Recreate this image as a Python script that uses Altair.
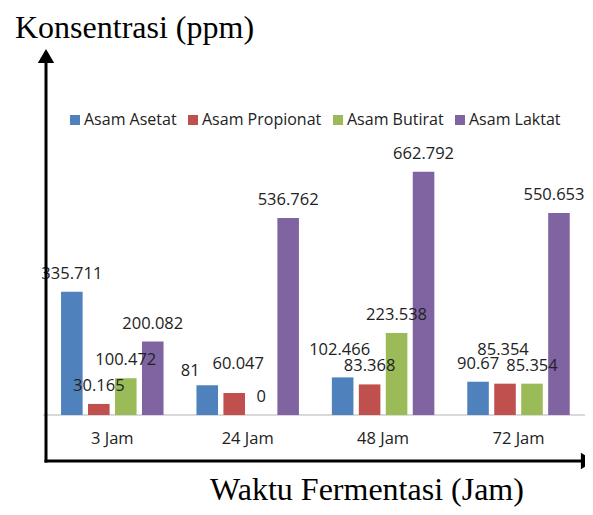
import altair as alt
import pandas as pd

# ---- data ----
categories = ["3 Jam", "24 Jam", "48 Jam", "72 Jam"]
series = ["Asam Asetat", "Asam Propionat", "Asam Butirat", "Asam Laktat"]
asetat = [335.711, 81, 102.466, 90.67]
propionat = [30.165, 60.047, 83.368, 85.354]
butirat = [100.472, 0, 223.538, 85.354]
laktat = [200.082, 536.762, 662.792, 550.653]
colors = ["#4F81BD", "#C0504D", "#9BBB59", "#8064A2"]

rows = []
for s, vals in zip(series, [asetat, propionat, butirat, laktat]):
    for c, v in zip(categories, vals):
        rows.append({"waktu": c, "asam": s, "ppm": v, "label": f"{v:g}"})
df = pd.DataFrame(rows)

# label placement tweaks (pixels) for labels moved by hand in the original
nudges = [
    ("24 Jam", "Asam Asetat", -17, 4),
    ("24 Jam", "Asam Propionat", 4, -11),
    ("48 Jam", "Asam Asetat", -3, -9),
    ("72 Jam", "Asam Propionat", -2, -16),
    ("72 Jam", "Asam Laktat", -5, 0),
]

W, H = 577, 499
SANS = "Open Sans"
SERIF = "Liberation Serif"
TXT = "#222222"

x_scale = alt.Scale(domain=categories, range=[36.6, 578.2], paddingInner=0, paddingOuter=0)
xo_scale = alt.Scale(domain=series, paddingInner=0.2, paddingOuter=0.61)
y_scale = alt.Scale(domain=[0, 700], range=[407, 150.1], nice=False)

X = alt.X("waktu:N", scale=x_scale, sort=categories, axis=None)
XO = alt.XOffset("asam:N", scale=xo_scale, sort=series)
Y = alt.Y("ppm:Q", scale=y_scale, axis=None)

base = alt.Chart(df)

bars = base.mark_bar().encode(
    x=X,
    xOffset=XO,
    y=Y,
    color=alt.Color(
        "asam:N",
        scale=alt.Scale(domain=series, range=colors),
        sort=series,
        legend=alt.Legend(
            title=None,
            orient="none",
            legendX=59,
            legendY=104,
            direction="horizontal",
            columns=4,
            symbolType="square",
            symbolSize=100,
            symbolStrokeWidth=0,
            symbolOpacity=1,
            labelFont=SANS,
            labelFontSize=16,
            labelColor=TXT,
            labelOffset=1,
            columnPadding=8,
            padding=0,
        ),
    ),
)

def cond(c, s):
    return f"(datum.waktu == '{c}' && datum.asam == '{s}')"

exclude = " || ".join(cond(c, s) for c, s, _, _ in nudges)

labels = base.transform_filter(f"!({exclude})").mark_text(
    font=SANS, fontSize=16.5, color=TXT, baseline="alphabetic", dy=-13
).encode(x=X, xOffset=XO, y=Y, text="label:N")

nudged = [
    base.transform_filter(cond(c, s)).mark_text(
        font=SANS, fontSize=16.5, color=TXT, baseline="alphabetic", dx=dx, dy=-13 + dy
    ).encode(x=X, xOffset=XO, y=Y, text="label:N")
    for c, s, dx, dy in nudges
]

cat_df = pd.DataFrame({"waktu": categories})
cat_labels = alt.Chart(cat_df).mark_text(
    font=SANS, fontSize=16.5, color=TXT, baseline="alphabetic"
).encode(x=X, y=alt.value(436), text="waktu:N")

one = alt.Data(values=[{"k": 1}])

baseline = alt.Chart(one).mark_rule(color="#B4B4B4", strokeWidth=1).encode(
    x=alt.value(35), x2=alt.value(578), y=alt.value(407)
)

v_axis = alt.Chart(one).mark_rule(color="black", strokeWidth=3).encode(
    x=alt.value(38), y=alt.value(52), y2=alt.value(454.5)
)
h_axis = alt.Chart(one).mark_rule(color="black", strokeWidth=3).encode(
    x=alt.value(36.5), x2=alt.value(577), y=alt.value(453)
)
up_head = alt.Chart(one).mark_point(
    shape="triangle-up", filled=True, size=270, color="black", opacity=1
).encode(x=alt.value(38), y=alt.value(48))
right_head = alt.Chart(one).mark_point(
    shape="triangle-right", filled=True, size=270, color="black", opacity=1
).encode(x=alt.value(580), y=alt.value(453))

y_title = alt.Chart(one).mark_text(
    text="Konsentrasi (ppm)", font=SERIF, fontSize=32, color="black",
    align="left", baseline="alphabetic"
).encode(x=alt.value(7), y=alt.value(30))

x_title = alt.Chart(one).mark_text(
    text="Waktu Fermentasi (Jam)", font=SERIF, fontSize=32, color="black",
    align="center", baseline="alphabetic"
).encode(x=alt.value(359), y=alt.value(492))

chart = alt.layer(
    baseline, bars, labels, *nudged, cat_labels,
    v_axis, h_axis, up_head, right_head, y_title, x_title
).properties(
    width=W, height=H,
    autosize=alt.AutoSizeParams(type="none"),
    padding=0,
    background="white",
).configure_view(stroke=None)

chart.save("out.html", embed_options={"renderer": "svg", "actions": False})
